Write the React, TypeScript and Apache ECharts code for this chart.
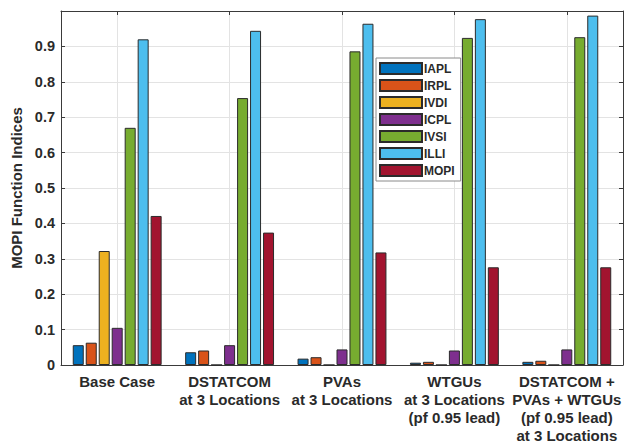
import React, { useEffect, useRef } from "react";
import * as echarts from "echarts";

const categories = [
  "Base Case",
  "DSTATCOM\nat 3 Locations",
  "PVAs\nat 3 Locations",
  "WTGUs\nat 3 Locations\n(pf 0.95 lead)",
  "DSTATCOM +\nPVAs + WTGUs\n(pf 0.95 lead)\nat 3 Locations",
];
const seriesNames = ["IAPL", "IRPL", "IVDI", "ICPL", "IVSI", "ILLI", "MOPI"];
const IAPL = [0.056, 0.036, 0.018, 0.0065, 0.009];
const IRPL = [0.063, 0.041, 0.022, 0.009, 0.012];
const IVDI = [0.322, 0, 0, 0, 0];
const ICPL = [0.105, 0.056, 0.044, 0.041, 0.044];
const IVSI = [0.67, 0.754, 0.886, 0.924, 0.926];
const ILLI = [0.92, 0.944, 0.964, 0.977, 0.987];
const MOPI = [0.421, 0.374, 0.318, 0.276, 0.276];
const colors = ["#0072BD", "#D95319", "#EDB120", "#7E2F8E", "#77AC30", "#4DBEEE", "#A2142F"];
const yTicks = ["0", "0.1", "0.2", "0.3", "0.4", "0.5", "0.6", "0.7", "0.8", "0.9", ""];

const FONT = 'Arial, "Liberation Sans", Helvetica, sans-serif';

export default function App() {
  const ref = useRef<HTMLDivElement>(null);
  useEffect(() => {
    if (!ref.current) return;
    const chart = echarts.init(ref.current, undefined, { renderer: "svg" });
    const values = [IAPL, IRPL, IVDI, ICPL, IVSI, ILLI, MOPI];
    const axisColor = "#3a3a3a";
    const gridColor = "#e3e3e3";
    const textColor = "#2a2a2a";
    chart.setOption({
      animation: false,
      backgroundColor: "#ffffff",
      textStyle: { fontFamily: FONT },
      grid: { left: 61, right: 16, top: 11, bottom: 81 },
      legend: {
        orient: "vertical",
        left: 376,
        top: 58,
        itemWidth: 42,
        itemHeight: 11,
        itemGap: 4,
        padding: [4, 6, 4, 3],
        backgroundColor: "#ffffff",
        borderColor: "#8a8a8a",
        borderWidth: 1,
        icon: "rect",
        textStyle: { fontFamily: FONT, fontWeight: "bold", fontSize: 12, color: textColor, padding: [0, 0, 0, -3] },
        data: seriesNames,
      },
      xAxis: [
        {
          type: "category",
          data: categories,
          axisLine: { lineStyle: { color: axisColor, width: 1 } },
          axisTick: { show: true, inside: true, alignWithLabel: true, length: 4, lineStyle: { color: axisColor } },
          splitLine: { show: true, alignWithLabel: true, lineStyle: { color: gridColor } },
          axisLabel: {
            margin: 7,
            fontFamily: FONT,
            fontWeight: "bold",
            fontSize: 15,
            lineHeight: 18,
            color: textColor,
            interval: 0,
          },
        },
        {
          type: "category",
          position: "top",
          data: categories,
          axisLine: { show: true, onZero: false, lineStyle: { color: axisColor, width: 1 } },
          axisTick: { show: true, inside: true, alignWithLabel: true, length: 4, lineStyle: { color: axisColor } },
          axisLabel: { show: false },
          splitLine: { show: false },
        },
      ],
      yAxis: [
        {
          type: "value",
          min: 0,
          max: 1,
          interval: 0.1,
          name: "MOPI Function Indices",
          nameLocation: "middle",
          nameGap: 31,
          nameTextStyle: { fontFamily: FONT, fontWeight: "bold", fontSize: 15, color: textColor },
          axisLine: { show: true, lineStyle: { color: axisColor, width: 1 } },
          axisTick: { show: true, inside: true, length: 4, lineStyle: { color: axisColor } },
          splitLine: { show: true, lineStyle: { color: gridColor } },
          axisLabel: {
            margin: 6,
            fontFamily: FONT,
            fontWeight: "bold",
            fontSize: 14.5,
            color: textColor,
            formatter: (_v: number, i: number) => yTicks[i] ?? "",
          },
        },
        {
          type: "value",
          position: "right",
          min: 0,
          max: 1,
          interval: 0.1,
          axisLine: { show: true, lineStyle: { color: axisColor, width: 1 } },
          axisTick: { show: true, inside: true, length: 4, lineStyle: { color: axisColor } },
          splitLine: { show: false },
          axisLabel: { show: false },
        },
      ],
      series: seriesNames.map((name, i) => ({
        name,
        type: "bar",
        data: values[i],
        barWidth: 11,
        barGap: "18%",
        itemStyle: { color: colors[i], borderColor: "#2b2b2b", borderWidth: 1 },
      })),
    });
    return () => chart.dispose();
  }, []);
  return (
    <div
      ref={ref}
      style={{ position: "fixed", left: 0, top: 0, width: 639, height: 446, background: "#fff" }}
    />
  );
}
